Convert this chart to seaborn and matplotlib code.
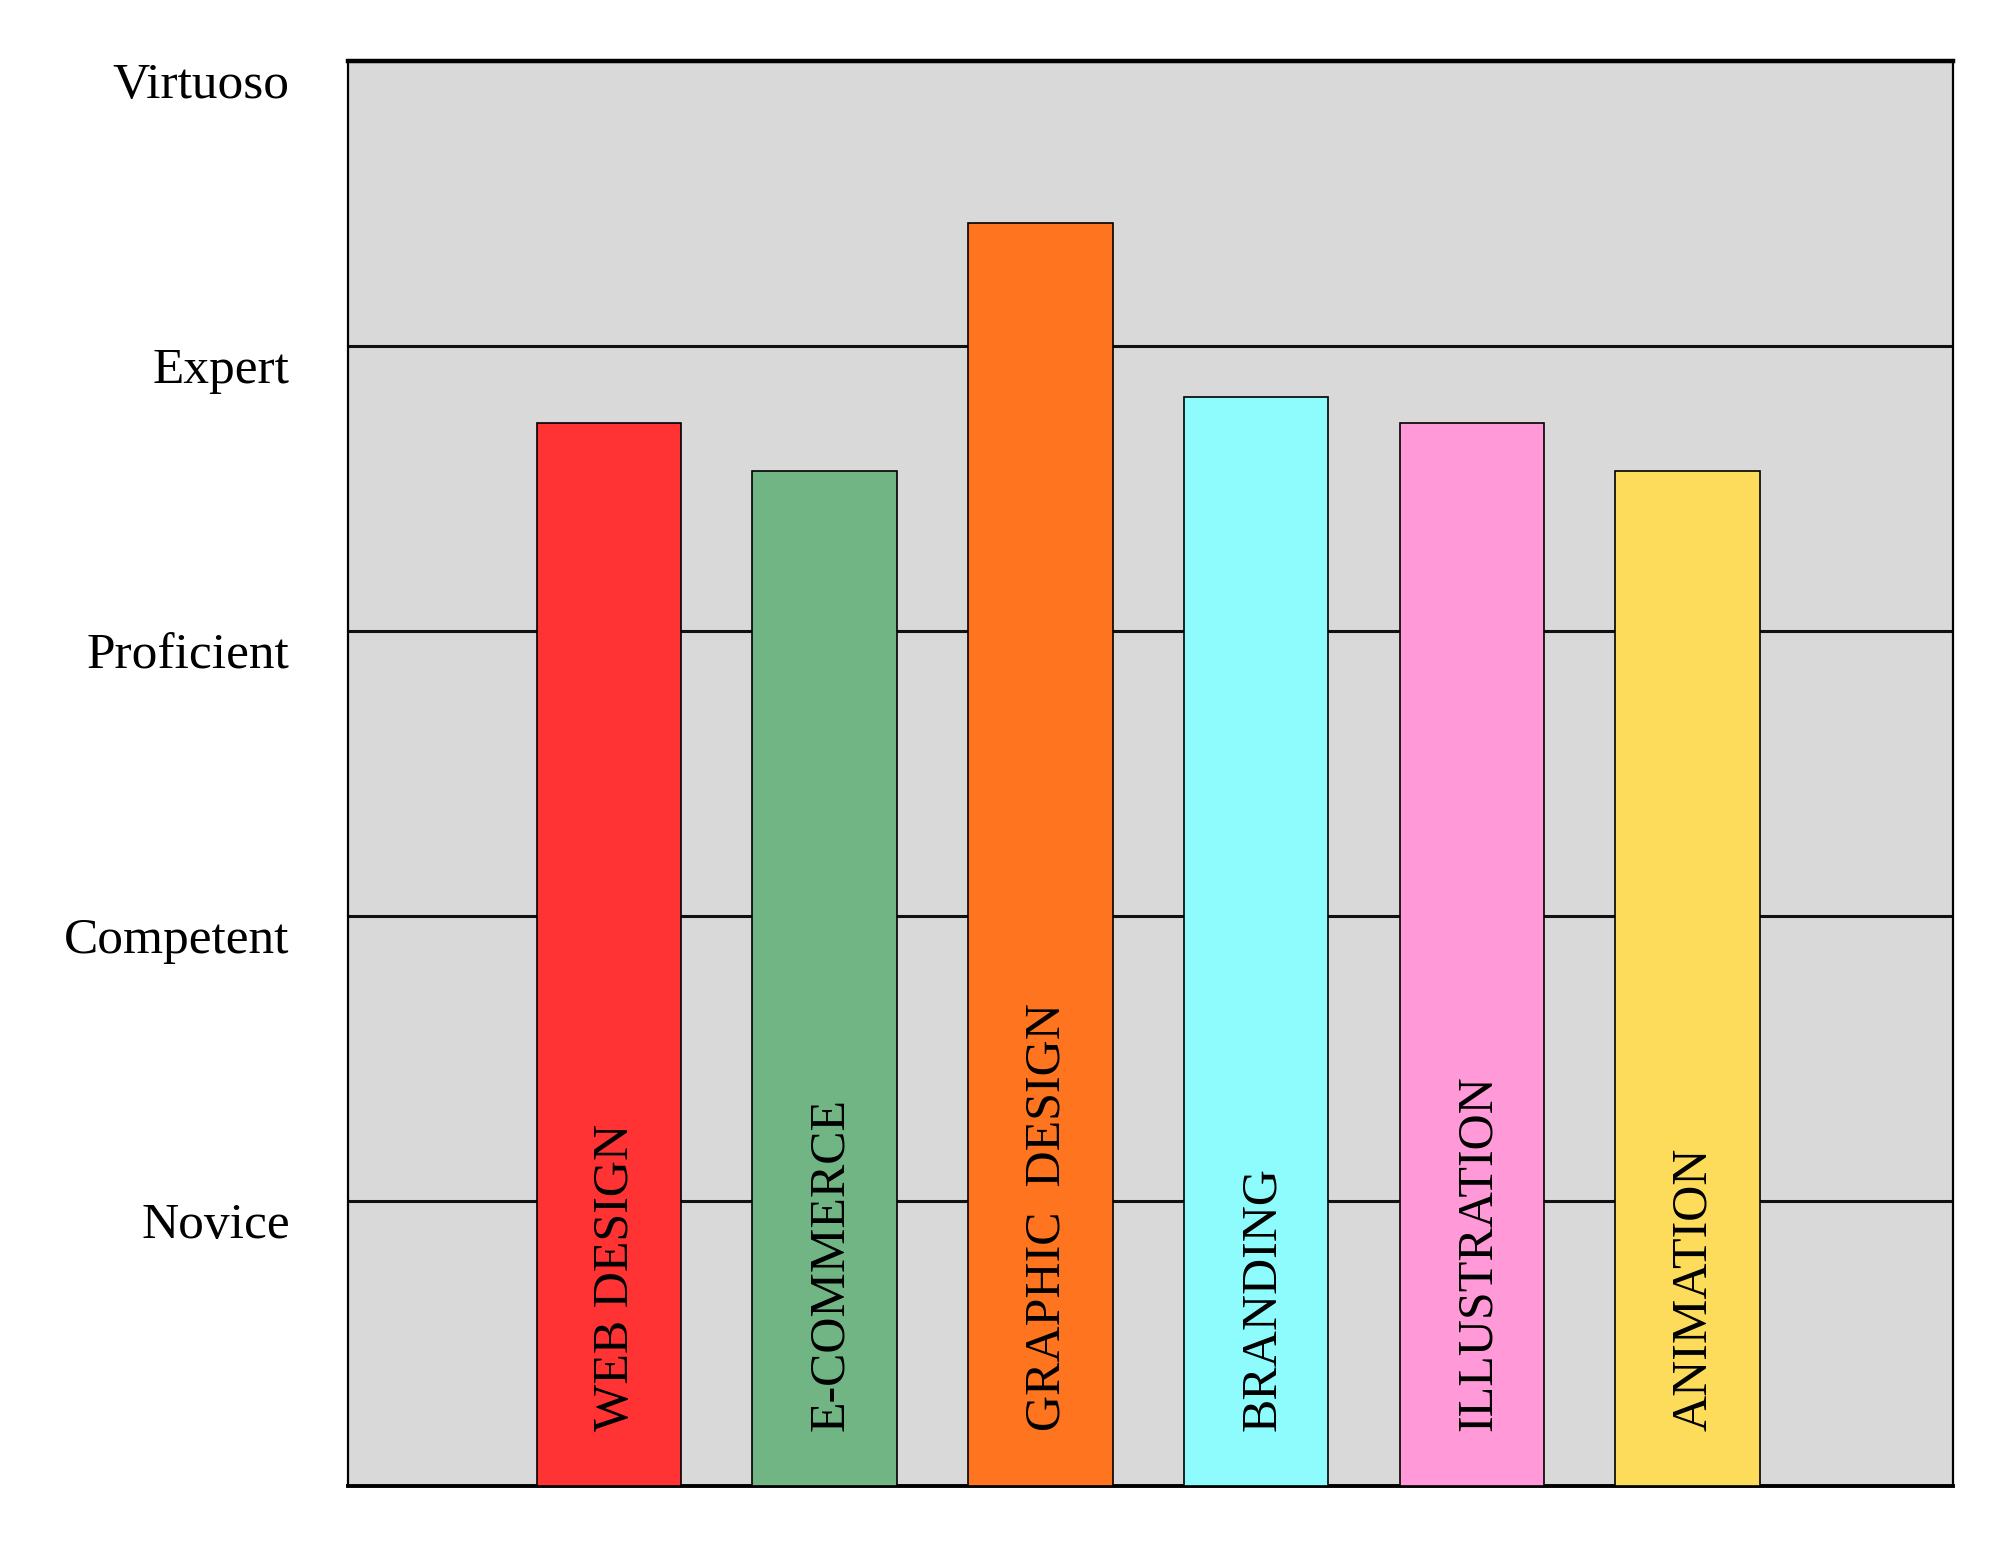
import matplotlib
matplotlib.use("Agg")
import matplotlib.pyplot as plt
import matplotlib.transforms as mtransforms
import seaborn as sns
import pandas as pd

skills = ['WEB DESIGN', 'E-COMMERCE', 'GRAPHIC  DESIGN', 'BRANDING', 'ILLUSTRATION', 'ANIMATION']
levels = [3.73, 3.56, 4.43, 3.82, 3.73, 3.56]
colors = ['#ff3333', '#72b585', '#ff741f', '#8efbfd', '#ff99d8', '#fedc5b']
level_ticks = [1, 2, 3, 4, 5]
level_names = ['Novice', 'Competent', 'Proficient', 'Expert', 'Virtuoso']

df = pd.DataFrame({'skill': skills, 'level': levels})

sns.set_style('white')
plt.rcParams['font.family'] = ['Liberation Serif', 'DejaVu Serif']
plt.rcParams['text.color'] = 'black'
plt.rcParams['ytick.color'] = 'black'

fig = plt.figure(figsize=(10, 7.725), dpi=200)
ax = fig.add_axes([0.174, 0.0385, 0.8025, 0.922])
ax.set_facecolor('#d9d9d9')

sns.barplot(data=df, x='skill', y='level', hue='skill', palette=colors,
            legend=False, width=0.67, edgecolor='black', linewidth=0.6,
            saturation=1, ax=ax, zorder=3)

ax.set_xlim(-1.21, 6.23)
ax.set_ylim(0, 5)
ax.set_axisbelow(True)
ax.yaxis.grid(True, color='#111111', linewidth=1.1)
ax.set_yticks(level_ticks)
ax.set_yticklabels(level_names, fontsize=18.5)
ax.tick_params(axis='y', length=0, pad=21, labelcolor='black')
offset = mtransforms.ScaledTranslation(0, -7 / 72, fig.dpi_scale_trans)
for lab in ax.get_yticklabels():
    lab.set_transform(lab.get_transform() + offset)
ax.set_xticks([])
ax.set_xlabel('')
ax.set_ylabel('')

for side in ['left', 'right']:
    ax.spines[side].set_color('black')
    ax.spines[side].set_linewidth(0.8)
ax.spines['top'].set_color('black')
ax.spines['top'].set_linewidth(1.6)
ax.spines['bottom'].set_color('black')
ax.spines['bottom'].set_linewidth(1.4)

for i, name in enumerate(skills):
    ax.text(i + 0.03, 0.19, name, rotation=90, ha='center', va='bottom',
            fontsize=18, color='black', zorder=4)

fig.savefig('out.png', dpi=200)
